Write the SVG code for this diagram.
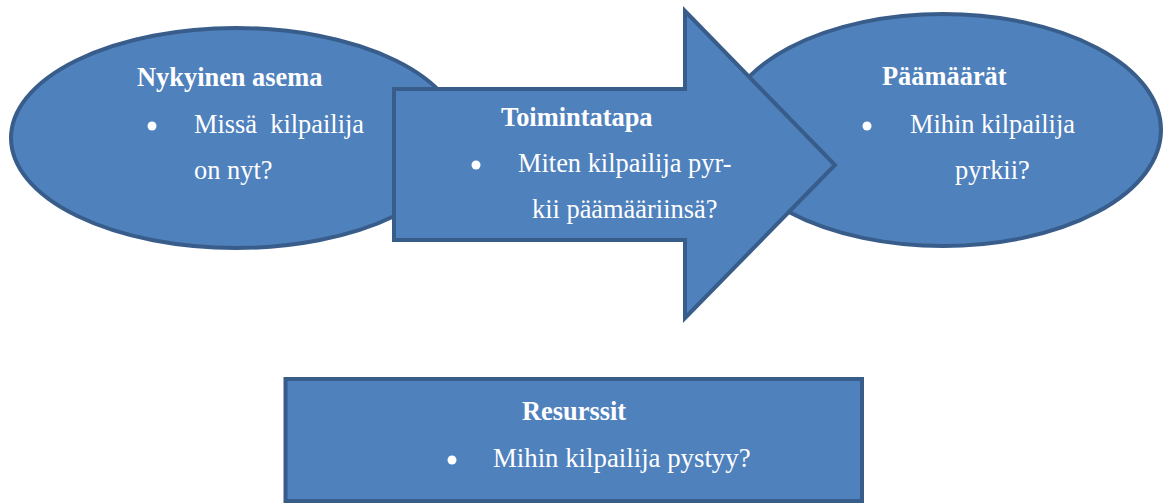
<svg xmlns="http://www.w3.org/2000/svg" width="1170" height="504" viewBox="0 0 1170 504">
  <style>
    .shape { fill: #4F81BD; stroke: #385D8A; stroke-width: 4; }
    .t { font-family: "Liberation Serif", "Times New Roman", serif; font-size: 26.4px; fill: #FFFFFF; white-space: pre; }
    .b { font-weight: bold; }
    .dot { fill: #FFFFFF; }
  </style>
  <rect width="1170" height="504" fill="#FFFFFF"/>
  <g id="nykyinen-asema">
    <ellipse class="shape" cx="236" cy="138" rx="225" ry="110"/>
  </g>
  <g id="paamaarat">
    <ellipse class="shape" cx="943" cy="130" rx="218" ry="116"/>
  </g>
  <g id="toimintatapa">
    <polygon class="shape" points="394,89 685,89 685,11 835,165 685,318 685,240 394,240"/>
  </g>
  <g id="nykyinen-asema-text">
    <text class="t b" x="137" y="86">Nykyinen asema</text>
    <circle class="dot" cx="152" cy="126" r="4.5"/>
    <text class="t" x="194" y="133">Missä  kilpailija</text>
    <text class="t" x="194" y="179">on nyt?</text>
  </g>
  <g id="toimintatapa-text">
    <text class="t b" x="501" y="126">Toimintatapa</text>
    <circle class="dot" cx="476" cy="165" r="4.5"/>
    <text class="t" x="518" y="172">Miten kilpailija pyr-</text>
    <text class="t" x="532" y="218">kii päämääriinsä?</text>
  </g>
  <g id="paamaarat-text">
    <text class="t b" x="882" y="85">Päämäärät</text>
    <circle class="dot" cx="867" cy="126" r="4.5"/>
    <text class="t" x="910" y="133">Mihin kilpailija</text>
    <text class="t" x="955" y="179">pyrkii?</text>
  </g>
  <g id="resurssit">
    <rect class="shape" x="285.5" y="379" width="576.5" height="122"/>
    <text class="t b" x="522" y="420">Resurssit</text>
    <circle class="dot" cx="452" cy="460" r="4.5"/>
    <text class="t" x="493" y="467" style="font-size:26.8px">Mihin kilpailija pystyy?</text>
  </g>
  <g id="connectors"/>
</svg>
